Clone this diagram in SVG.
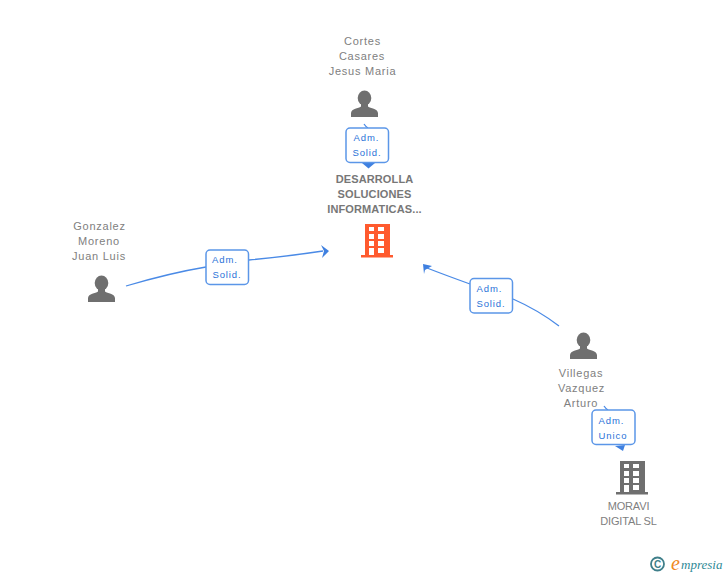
<svg xmlns="http://www.w3.org/2000/svg" width="728" height="575" viewBox="0 0 728 575">
<style>
text{font-family:"Liberation Sans",Arial,sans-serif}
.n{font-size:11px;fill:#808080;text-anchor:middle;letter-spacing:.75px}
.m{font-size:11px;fill:#808080;text-anchor:middle;letter-spacing:-.15px}
.b{font-size:11px;font-weight:700;fill:#777;text-anchor:middle;letter-spacing:.12px}
.l{font-size:9.500px;fill:#2a72d8;text-anchor:middle;letter-spacing:.9px}
.box{fill:#fff;stroke:#5b96e8;stroke-width:1.500}
.c{fill:none;stroke:#4a8ae6;stroke-width:1.300}
.h{fill:#3f80e0}
.p{fill:#6f6f6f}
</style>
<defs>
<g id="person"><ellipse cx="0" cy="-14" rx="6.800" ry="7.500"/><path d="M-3.500-9H3.500V-5.500C6-3.500 13-3.500 13.500 1V5H-13.500V1C-13-3.500-6-3.500-3.500-5.500Z"/></g>
<g id="bld"><path fill-rule="evenodd" d="M-11-16H14V16H-11ZM-7-13V-9H-2V-13ZM2-13V-9H8V-13ZM-7-6V-1H-2V-6ZM2-6V-1H8V-6ZM-7 1V6H-2V1ZM2 1V6H8V1ZM-7 8V15H-2V8ZM2 8V13H8V8Z"/><rect x="-15" y="15" width="32" height="2.500"/></g>
</defs>
<g id="connectors">
<path class="c" d="M364 124Q366 127 368 128"/>
<path class="c" d="M126 286Q170 273 206 267"/>
<path class="c" d="M249 260Q290 256 323 251"/>
<path class="c" d="M559 326Q538 310 513 299"/>
<path class="c" d="M470 284Q445 275 427 268"/>
<path class="c" d="M604 406Q606 409 608 410"/>
<path class="h" d="M362 163H375L368.500 168.500Z"/>
<path class="h" d="M321 245L329 251L322 258L324 251Z"/>
<path class="h" d="M423 264L432 266L425 270L424 274Z"/>
<path class="h" d="M615 446L625 445L623 451Z"/>
</g>
<g id="n1"><text class="n" x="362.500" y="45">Cortes</text><text class="n" x="362" y="60">Casares</text><text class="n" x="362.500" y="75">Jesus Maria</text><use href="#person" class="p" x="364.500" y="112"/></g>
<g id="e1"><rect class="box" x="346" y="128" width="42.500" height="34.500" rx="4"/><text class="l" x="366.500" y="141">Adm.</text><text class="l" x="367" y="156">Solid.</text></g>
<g id="n0"><text class="b" x="374.500" y="183">DESARROLLA</text><text class="b" x="374.500" y="198">SOLUCIONES</text><text class="b" x="374.500" y="213">INFORMATICAS...</text><use href="#bld" fill="#ff5a2e" x="376" y="240"/></g>
<g id="n2"><text class="n" x="99.500" y="230">Gonzalez</text><text class="n" x="99" y="245">Moreno</text><text class="n" x="99" y="260">Juan Luis</text><use href="#person" class="p" x="101.500" y="297"/></g>
<g id="e2"><rect class="box" x="206" y="250" width="42.500" height="34.500" rx="4"/><text class="l" x="225" y="263">Adm.</text><text class="l" x="227" y="278">Solid.</text></g>
<g id="e3"><rect class="box" x="470" y="278.500" width="42.500" height="34.500" rx="4"/><text class="l" x="489.500" y="292">Adm.</text><text class="l" x="491" y="307">Solid.</text></g>
<g id="n3"><use href="#person" class="p" x="583.500" y="354"/><text class="n" x="581" y="377">Villegas</text><text class="n" x="581.500" y="392">Vazquez</text><text class="n" x="581" y="407">Arturo</text></g>
<g id="e4"><rect class="box" x="592" y="410" width="43" height="34.500" rx="4"/><text class="l" x="611.500" y="423.500">Adm.</text><text class="l" x="613" y="438.500">Unico</text></g>
<g id="n4"><use href="#bld" class="p" x="631" y="477"/><text class="m" x="628.500" y="510">MORAVI</text><text class="m" x="628.500" y="525">DIGITAL SL</text></g>
<g id="logo"><circle cx="657.500" cy="564" r="6.500" fill="none" stroke="#3f7f8a" stroke-width="1.800"/><text x="657.500" y="567.500" font-size="10" font-weight="700" fill="#3f7f8a" text-anchor="middle">C</text><text x="671" y="570" font-size="20" font-style="italic" fill="#f08a1d" style="font-family:'Liberation Serif',serif">e</text><text x="681" y="569" font-size="13" font-style="italic" fill="#2f8a96" style="font-family:'Liberation Serif',serif">mpresia</text></g>
</svg>
